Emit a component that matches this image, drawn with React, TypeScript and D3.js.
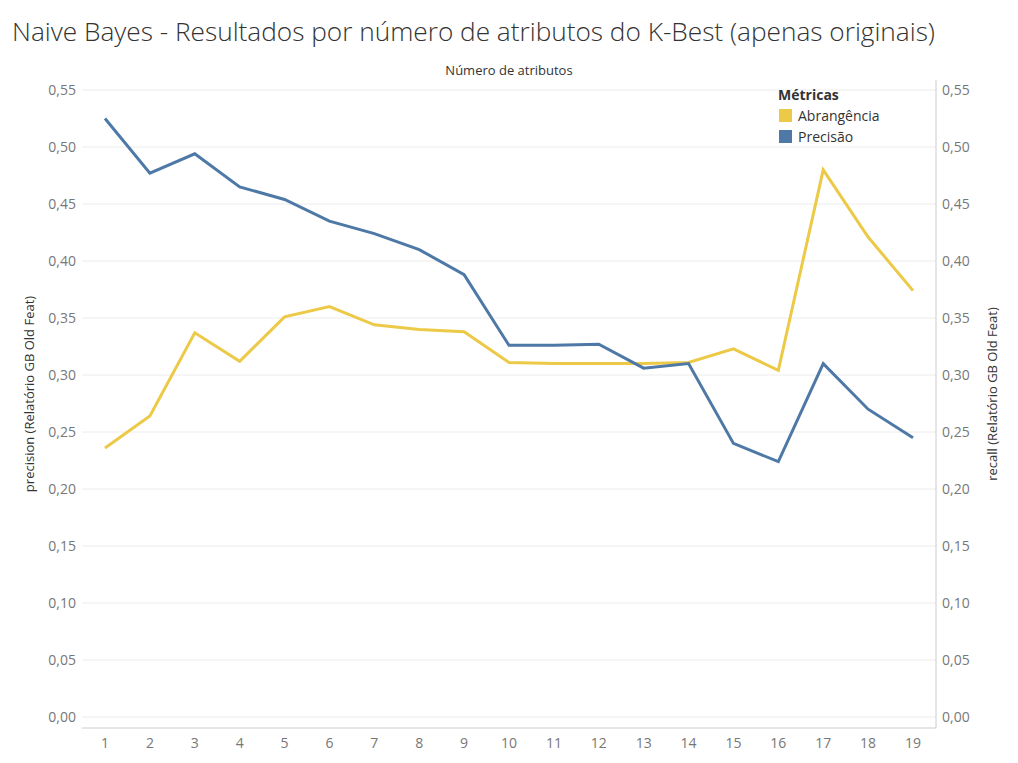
import React from 'react';
import * as d3 from 'd3';

const atributos = d3.range(1, 20);
const precisao = [0.525, 0.477, 0.494, 0.465, 0.454, 0.435, 0.424, 0.410, 0.388, 0.326, 0.326, 0.327, 0.306, 0.310, 0.240, 0.224, 0.310, 0.270, 0.245];
const abrangencia = [0.236, 0.264, 0.337, 0.312, 0.351, 0.360, 0.344, 0.340, 0.338, 0.311, 0.310, 0.310, 0.310, 0.311, 0.323, 0.304, 0.480, 0.421, 0.374];
const yTicks = d3.range(0, 0.551, 0.05);

const W = 1018, H = 763;
const left = 82, right = 936, top = 80, bottom = 728;

export default function App() {
  const x = d3.scaleLinear().domain([1, 19]).range([105, 913]);
  const y = d3.scaleLinear().domain([0, 0.55]).range([717, 90]);
  const line = d3.line<number>().x((_, i) => x(atributos[i])).y(d => y(d));
  const fmt = (v: number) => v.toFixed(2).replace('.', ',');
  const font = '"Open Sans", Lato, sans-serif';

  return (
    <svg width={W} height={H} style={{ position: 'absolute', left: 0, top: 0, background: '#fff' }} fontFamily={font}>
      <text x={12} y={41} fontSize={25} fontWeight={300} fill="#333" textLength={923} lengthAdjust="spacingAndGlyphs">Naive Bayes - Resultados por número de atributos do K-Best (apenas originais)</text>
      <text x={(left + right) / 2} y={75} fontSize={13} textAnchor="middle" fill="#333">Número de atributos</text>
      {yTicks.map(t => (
        <g key={t}>
          <line x1={left} x2={right} y1={y(t)} y2={y(t)} stroke="#ececec" />
          <text x={76} y={y(t) + 5} fontSize={14} textAnchor="end" fill="#777">{fmt(t)}</text>
          <text x={942} y={y(t) + 5} fontSize={14} fill="#777">{fmt(t)}</text>
        </g>
      ))}
      <line x1={right} x2={right} y1={top} y2={bottom} stroke="#ccc" />
      <line x1={left} x2={right} y1={bottom} y2={bottom} stroke="#ccc" />
      {atributos.map(a => (
        <text key={a} x={x(a)} y={748} fontSize={14} textAnchor="middle" fill="#777">{a}</text>
      ))}
      <text transform={`translate(34,${(top + bottom) / 2 - 10}) rotate(-90)`} fontSize={13} textAnchor="middle" fill="#333">precision (Relatório GB Old Feat)</text>
      <text transform={`translate(997,${(top + bottom) / 2 - 10}) rotate(-90)`} fontSize={13} textAnchor="middle" fill="#333">recall (Relatório GB Old Feat)</text>
      <path d={line(abrangencia) ?? ''} fill="none" stroke="#edc948" strokeWidth={3} />
      <path d={line(precisao) ?? ''} fill="none" stroke="#4e79a7" strokeWidth={3} />
      <text x={778} y={100} fontSize={14} fontWeight="bold" fill="#333">Métricas</text>
      <rect x={779} y={109} width={13} height={13} fill="#edc948" />
      <text x={798} y={121} fontSize={14} fill="#333">Abrangência</text>
      <rect x={779} y={130} width={13} height={13} fill="#4e79a7" />
      <text x={798} y={142} fontSize={14} fill="#333">Precisão</text>
    </svg>
  );
}
